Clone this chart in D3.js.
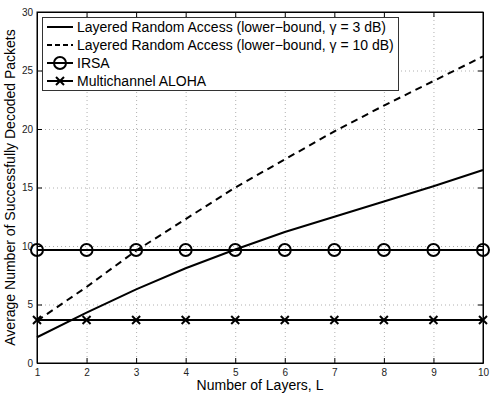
<!DOCTYPE html>
<html>
<head>
<meta charset="utf-8">
<script src="https://cdn.jsdelivr.net/npm/d3@7"></script>
<style>
  body { margin: 0; background: #fff; }
  svg { font-family: "Liberation Sans", Arial, sans-serif; }
</style>
</head>
<body>
<div id="chart"></div>
<script>
// data
const layers = [1, 2, 3, 4, 5, 6, 7, 8, 9, 10];
const lra3dB = [2.2, 4.3, 6.3, 8.1, 9.7, 11.2, 12.5, 13.8, 15.1, 16.5];
const lra10dB = [3.6, 6.5, 9.6, 12.3, 15.0, 17.4, 19.8, 22.0, 24.1, 26.2];
const irsa = [9.66, 9.66, 9.66, 9.66, 9.66, 9.66, 9.66, 9.66, 9.66, 9.66];
const aloha = [3.68, 3.68, 3.68, 3.68, 3.68, 3.68, 3.68, 3.68, 3.68, 3.68];
const yTicks = [0, 5, 10, 15, 20, 25, 30];
const legendLabels = [
    "Layered Random Access (lower\u2212bound, \u03b3 = 3 dB)",
    "Layered Random Access (lower\u2212bound, \u03b3 = 10 dB)",
    "IRSA",
    "Multichannel ALOHA"
];

const width = 498, height = 396;
const margin = { top: 12, right: 15, bottom: 33, left: 37 };

const svg = d3.select("#chart").append("svg")
    .attr("width", width)
    .attr("height", height);

const x = d3.scaleLinear().domain([1, 10]).range([margin.left, width - margin.right]);
const y = d3.scaleLinear().domain([0, 30]).range([height - margin.bottom, margin.top]);

const x0 = x.range()[0], x1 = x.range()[1];
const y0 = y.range()[0], y1 = y.range()[1];

// dotted grid
const grid = svg.append("g")
    .attr("stroke", "#b0b0b0")
    .attr("stroke-width", 1)
    .attr("stroke-dasharray", "1,3");
grid.selectAll(".gx").data(layers.slice(1, -1)).enter().append("line")
    .attr("x1", d => x(d) + 0.5).attr("x2", d => x(d) + 0.5)
    .attr("y1", y1).attr("y2", y0);
grid.selectAll(".gy").data(yTicks.slice(1, -1)).enter().append("line")
    .attr("x1", x0).attr("x2", x1)
    .attr("y1", d => y(d) + 0.5).attr("y2", d => y(d) + 0.5);

// axes with inward ticks on all four sides
const tickLen = 5;
const axisG = svg.append("g").attr("font-size", 9.5);
axisG.append("g")
    .attr("transform", `translate(0,${y0})`)
    .call(d3.axisBottom(x).tickValues(layers).tickSizeInner(-tickLen).tickSizeOuter(0).tickPadding(6));
axisG.append("g")
    .attr("transform", `translate(0,${y1})`)
    .call(d3.axisTop(x).tickValues(layers).tickSizeInner(-tickLen).tickSizeOuter(0).tickFormat(""));
axisG.append("g")
    .attr("transform", `translate(${x0},0)`)
    .call(d3.axisLeft(y).tickValues(yTicks).tickSizeInner(-tickLen).tickSizeOuter(0).tickPadding(4));
axisG.append("g")
    .attr("transform", `translate(${x1},0)`)
    .call(d3.axisRight(y).tickValues(yTicks).tickSizeInner(-tickLen).tickSizeOuter(0).tickFormat(""));
axisG.selectAll(".domain").attr("stroke", "#000");
axisG.selectAll(".tick line").attr("stroke", "#000");
axisG.selectAll(".tick text").attr("fill", "#222");

// box
svg.append("rect")
    .attr("x", x0).attr("y", y1)
    .attr("width", x1 - x0).attr("height", y0 - y1)
    .attr("fill", "none").attr("stroke", "#000").attr("stroke-width", 1);

// series
const line = d3.line().x((d, i) => x(layers[i])).y(d => y(d));
const series = [
    { values: lra3dB, dash: null, marker: null },
    { values: lra10dB, dash: "7,5", marker: null },
    { values: irsa, dash: null, marker: "circle" },
    { values: aloha, dash: null, marker: "cross" }
];

const plot = svg.append("g");
series.forEach(s => {
    plot.append("path")
        .attr("d", line(s.values))
        .attr("fill", "none")
        .attr("stroke", "#000")
        .attr("stroke-width", 2)
        .attr("stroke-dasharray", s.dash);
});

function drawMarker(g, type, cx, cy) {
    if (type === "circle") {
        g.append("circle")
            .attr("cx", cx).attr("cy", cy).attr("r", 6)
            .attr("fill", "none").attr("stroke", "#000").attr("stroke-width", 2);
    } else if (type === "cross") {
        const r = 4;
        g.append("path")
            .attr("d", `M${cx - r},${cy - r}L${cx + r},${cy + r}M${cx - r},${cy + r}L${cx + r},${cy - r}`)
            .attr("stroke", "#000").attr("stroke-width", 2);
    }
}

series.filter(s => s.marker).forEach(s => {
    s.values.forEach((v, i) => drawMarker(plot, s.marker, x(layers[i]), y(v)));
});

// legend
const legend = svg.append("g");
const lgX = 42, lgY = 17, lgW = 356, rowH = 18;
legend.append("rect")
    .attr("x", lgX + 0.5).attr("y", lgY + 0.5)
    .attr("width", lgW).attr("height", rowH * 4 + 1)
    .attr("fill", "#fff").attr("stroke", "#333").attr("stroke-width", 1);
series.forEach((s, i) => {
    const ry = lgY + 10 + i * rowH;
    legend.append("line")
        .attr("x1", lgX + 5).attr("x2", lgX + 31)
        .attr("y1", ry).attr("y2", ry)
        .attr("stroke", "#000").attr("stroke-width", 2)
        .attr("stroke-dasharray", s.dash ? "5,3" : null);
    if (s.marker) drawMarker(legend, s.marker, lgX + 18, ry);
    legend.append("text")
        .attr("x", lgX + 35).attr("y", ry)
        .attr("dy", "0.36em")
        .attr("font-size", 14)
        .text(legendLabels[i]);
});

// axis titles
svg.append("text")
    .attr("x", (x0 + x1) / 2).attr("y", height - 6)
    .attr("text-anchor", "middle")
    .attr("font-size", 14)
    .text("Number of Layers, L");
svg.append("text")
    .attr("transform", `translate(15,${(y0 + y1) / 2}) rotate(-90)`)
    .attr("text-anchor", "middle")
    .attr("font-size", 14)
    .text("Average Number of Successfully Decoded Packets");
</script>
</body>
</html>
